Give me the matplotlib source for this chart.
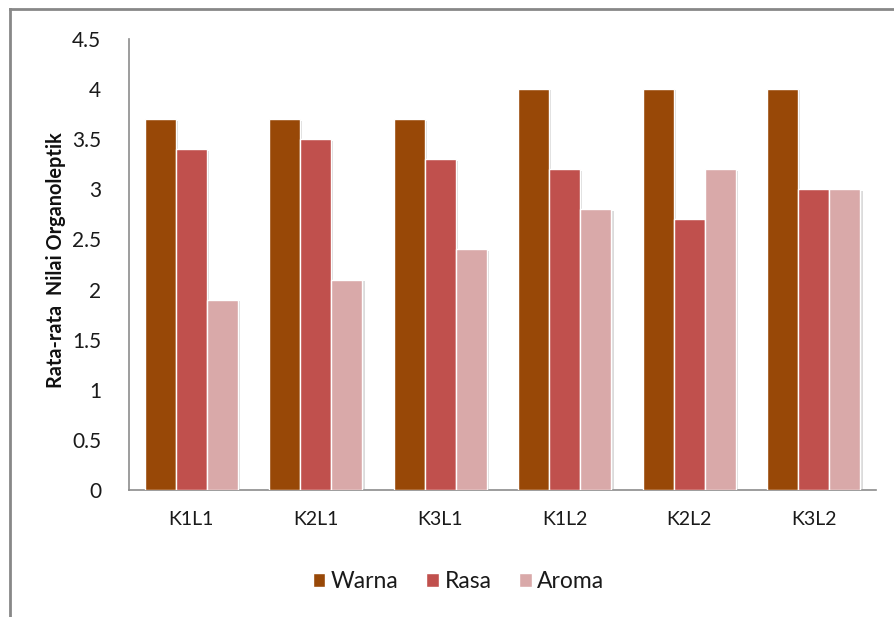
import matplotlib
matplotlib.use("Agg")
import matplotlib.pyplot as plt
import matplotlib.patheffects as pe
from matplotlib.lines import Line2D
import numpy as np

plt.rcParams['font.family'] = ['Lato', 'DejaVu Sans']

# data
categories = ["K1L1", "K2L1", "K3L1", "K1L2", "K2L2", "K3L2"]
warna = [3.7, 3.7, 3.7, 4.0, 4.0, 4.0]
rasa = [3.4, 3.5, 3.3, 3.2, 2.7, 3.0]
aroma = [1.9, 2.1, 2.4, 2.8, 3.2, 3.0]
series_names = ["Warna", "Rasa", "Aroma"]
series_colors = ["#984807", "#C0504D", "#D9A9A9"]
y_ticks = [0, 0.5, 1, 1.5, 2, 2.5, 3, 3.5, 4, 4.5]
y_tick_labels = ["0", "0.5", "1", "1.5", "2", "2.5", "3", "3.5", "4", "4.5"]

fig = plt.figure(figsize=(8.94, 6.17), dpi=100)
ax = fig.add_axes([0.1443, 0.2058, 0.8356, 0.731])

x = np.arange(len(categories))
w = 0.25
shadow = [pe.SimplePatchShadow(offset=(1.5, -1.0), shadow_rgbFace="#999999", alpha=0.35), pe.Normal()]
for i, (vals, name, col) in enumerate(zip([warna, rasa, aroma], series_names, series_colors)):
    bars = ax.bar(x + (i - 1) * w, vals, width=w, color=col, edgecolor="white",
                  linewidth=1.0, label=name, zorder=3)
    for b in bars:
        b.set_path_effects(shadow)

ax.set_xlim(-0.5, len(categories) - 0.5)
ax.set_ylim(0, 4.5)
ax.set_yticks(y_ticks)
ax.set_yticklabels(y_tick_labels)
ax.set_xticks(x)
ax.set_xticklabels(categories)
ax.tick_params(axis="y", length=0, pad=20, labelsize=15, labelcolor="#1a1a1a")
ax.tick_params(axis="x", length=0, pad=15, labelsize=14, labelcolor="#1a1a1a")

for s in ["top", "right"]:
    ax.spines[s].set_visible(False)
for s in ["left", "bottom"]:
    ax.spines[s].set_color("#8c8c8c")
    ax.spines[s].set_linewidth(1.2)

ax.set_ylabel("Rata-rata  Nilai Organoleptik", fontsize=14.3, fontweight="bold",
              color="#111111")
ax.yaxis.set_label_coords(-0.0845, 0.51)

ax.legend(loc="center", bbox_to_anchor=(0.513, 0.058), bbox_transform=fig.transFigure,
          ncol=3, frameon=False, fontsize=16.5, handlelength=0.55, handleheight=0.55,
          handletextpad=0.25, columnspacing=1.2, labelcolor="#1a1a1a")
leg = ax.get_legend()
for h in leg.legend_handles:
    h.set_path_effects([])

# figure frame (left and top edges visible)
fig.add_artist(Line2D([0.0112, 0.0112], [0.0, 0.986], transform=fig.transFigure,
                      color="#888888", linewidth=2))
fig.add_artist(Line2D([0.0112, 1.0], [0.986, 0.986], transform=fig.transFigure,
                      color="#888888", linewidth=2))

fig.savefig("out.png", dpi=100)
